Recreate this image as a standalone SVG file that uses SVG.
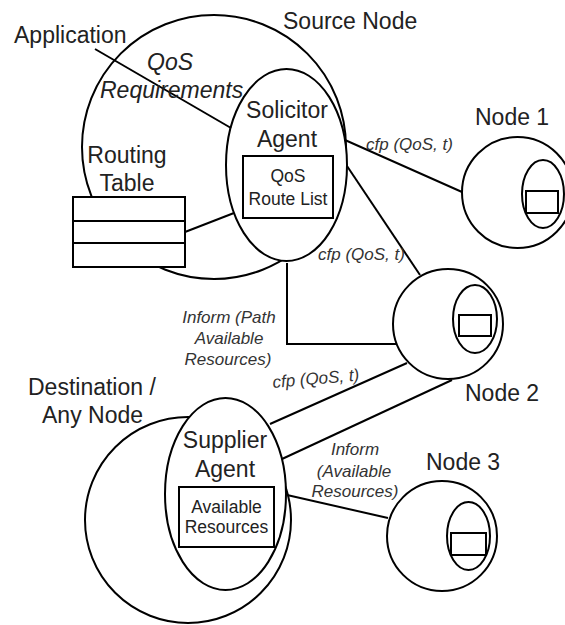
<svg xmlns="http://www.w3.org/2000/svg" width="565" height="625" viewBox="0 0 565 625">
  <style>
    .shape { fill: #ffffff; stroke: #000000; stroke-width: 2; }
    .line { fill: none; stroke: #000000; stroke-width: 2; }
    .big { font-family: "Liberation Sans", Arial, sans-serif; font-size: 23px; fill: #222222; }
    .small { font-family: "Liberation Sans", Arial, sans-serif; font-size: 17.5px; fill: #222222; }
    .lbl { font-family: "Liberation Sans", Arial, sans-serif; font-size: 17px; font-style: italic; fill: #333333; }
    .it { font-style: italic; }
    .mid { text-anchor: middle; }
  </style>
  <rect x="0" y="0" width="565" height="625" fill="#ffffff"/>

  <g id="source-node">
    <circle class="shape" cx="214" cy="147" r="132"/>
    <text class="big" x="283" y="29">Source Node</text>
  </g>

  <g id="routing-table">
    <rect class="shape" x="73" y="197" width="112" height="70"/>
    <line class="line" x1="73" y1="221" x2="185" y2="221"/>
    <line class="line" x1="73" y1="243" x2="185" y2="243"/>
    <text class="big mid" x="127" y="163">Routing</text>
    <text class="big mid" x="127" y="191">Table</text>
  </g>

  <g id="solicitor-agent">
    <ellipse class="shape" cx="286.5" cy="165" rx="60.5" ry="96"/>
    <text class="big mid" x="287" y="118">Solicitor</text>
    <text class="big mid" x="287" y="147">Agent</text>
    <rect class="shape" x="243" y="156" width="90" height="62"/>
    <text class="small mid" x="288" y="182">QoS</text>
    <text class="small mid" x="288" y="205">Route List</text>
  </g>

  <g id="node-1">
    <circle class="shape" cx="517.5" cy="192.5" r="55.5"/>
    <ellipse class="shape" cx="543" cy="194" rx="21" ry="34"/>
    <rect class="shape" x="526" y="191" width="32" height="22"/>
    <text class="big" x="475" y="125">Node 1</text>
  </g>

  <g id="node-2">
    <circle class="shape" cx="448" cy="324" r="55"/>
    <ellipse class="shape" cx="475" cy="319" rx="22" ry="34"/>
    <rect class="shape" x="459" y="315" width="32" height="21"/>
    <text class="big" x="465" y="401">Node 2</text>
  </g>

  <g id="node-3">
    <circle class="shape" cx="442" cy="536" r="55"/>
    <ellipse class="shape" cx="468.5" cy="536" rx="21.5" ry="34"/>
    <rect class="shape" x="451" y="533" width="35" height="22"/>
    <text class="big" x="426" y="470">Node 3</text>
  </g>

  <g id="destination-node">
    <circle class="shape" cx="188" cy="520" r="103"/>
    <text class="big" x="28" y="395">Destination /</text>
    <text class="big" x="42" y="423">Any Node</text>
  </g>

  <g id="supplier-agent">
    <ellipse class="shape" cx="225.5" cy="494" rx="60.5" ry="96"/>
    <text class="big mid" x="225" y="448">Supplier</text>
    <text class="big mid" x="225" y="477">Agent</text>
    <rect class="shape" x="179" y="487" width="95" height="60"/>
    <text class="small mid" x="226.5" y="513">Available</text>
    <text class="small mid" x="226.5" y="533">Resources</text>
  </g>

  <g id="application">
    <text class="big" x="14" y="43">Application</text>
  </g>

  <g id="connectors">
    <line class="line" x1="95" y1="49" x2="231" y2="128"/>
    <line class="line" x1="185" y1="232" x2="234" y2="213"/>
    <line class="line" x1="345" y1="140" x2="462" y2="192"/>
    <line class="line" x1="347" y1="166" x2="420" y2="275"/>
    <polyline class="line" points="287,263 287,344 397,344"/>
    <line class="line" x1="270" y1="424" x2="407" y2="363"/>
    <line class="line" x1="282" y1="459" x2="452" y2="380"/>
    <line class="line" x1="287" y1="495" x2="388" y2="518"/>
  </g>

  <g id="connector-labels">
    <text class="big it" x="147" y="70">QoS</text>
    <text class="big it" x="100" y="98">Requirements</text>
    <text class="lbl" x="366" y="150">cfp (QoS, t)</text>
    <text class="lbl" x="318" y="260">cfp (QoS, t)</text>
    <text class="lbl mid" x="229" y="323">Inform (Path</text>
    <text class="lbl mid" x="229" y="344">Available</text>
    <text class="lbl mid" x="228" y="365">Resources)</text>
    <text class="lbl" x="273" y="388" transform="rotate(-5 273 388)">cfp (QoS, t)</text>
    <text class="lbl mid" x="355" y="455">Inform</text>
    <text class="lbl mid" x="354" y="477">(Available</text>
    <text class="lbl mid" x="355" y="497">Resources)</text>
  </g>
</svg>
